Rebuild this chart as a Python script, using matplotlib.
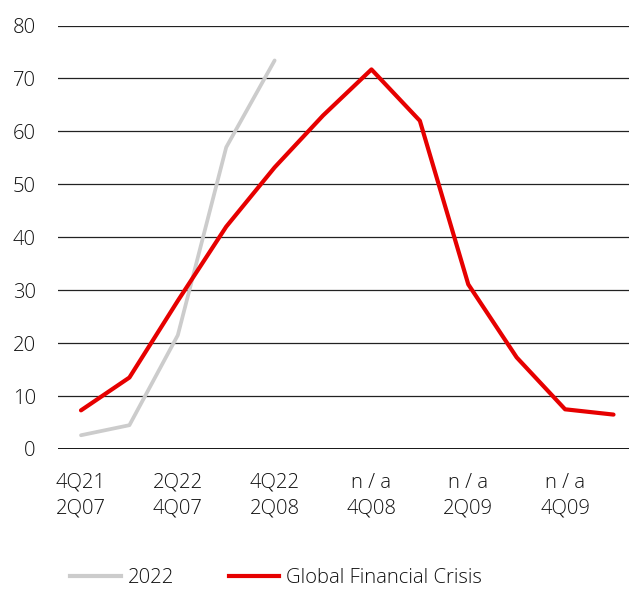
import matplotlib
matplotlib.use("Agg")
import matplotlib.pyplot as plt
from matplotlib.lines import Line2D

plt.rcParams['font.family'] = ['Open Sans', 'DejaVu Sans']

tick_labels = ["4Q21\n2Q07", "2Q22\n4Q07", "4Q22\n2Q08", "n / a\n4Q08", "n / a\n2Q09", "n / a\n4Q09"]
gfc = [7.3, 13.5, 28.0, 42.0, 53.2, 63.0, 71.7, 62.0, 31.1, 17.3, 7.5, 6.5]
y2022 = [2.6, 4.5, 21.5, 57.0, 73.4]
yticks = [0, 10, 20, 30, 40, 50, 60, 70, 80]

TXT = '#111111'
FS = 14.6

fig = plt.figure(figsize=(6.29, 5.89), dpi=100)
ax = fig.add_axes([58/629, 1-449/589, 1-58/629, (449-25.5)/589])

for y in yticks[1:]:
    ax.axhline(y, color='#222222', lw=0.9, zorder=1)
ax.axhline(0, color='black', lw=2.0, zorder=1)

ax.plot(range(len(y2022)), y2022, color='#cccccc', lw=2.7, solid_capstyle='round', zorder=3)
ax.plot(range(len(gfc)), gfc, color='#e60000', lw=3.0, solid_capstyle='round', zorder=4)

ax.set_ylim(0, 80)
ax.set_xlim(-0.475, 11.32)
ax.set_yticks(yticks)
ax.set_yticklabels([str(v) for v in yticks])
ax.set_xticks(range(0, 12, 2))
ax.set_xticklabels(tick_labels, linespacing=1.4)
ax.tick_params(axis='both', length=0, labelsize=FS, labelcolor=TXT)
ax.tick_params(axis='y', pad=16)
ax.tick_params(axis='x', pad=17)
for lab in ax.get_xticklabels() + ax.get_yticklabels():
    lab.set_fontweight('light')
for lab in ax.get_xticklabels():
    lab.set_ha('center')
for s in ax.spines.values():
    s.set_visible(False)

handles = [Line2D([], [], color='#cccccc', lw=3.0),
           Line2D([], [], color='#e60000', lw=3.0)]
leg = fig.legend(handles, ['2022', 'Global Financial Crisis'], loc='center left',
           bbox_to_anchor=(70/629, 1-578/589), ncol=2, frameon=False,
           fontsize=FS, handlelength=2.5, handletextpad=0.33, columnspacing=2.7,
           labelcolor=TXT, borderaxespad=0, borderpad=0)
for t in leg.get_texts():
    t.set_fontweight('light')

fig.savefig('out.png', dpi=100)
